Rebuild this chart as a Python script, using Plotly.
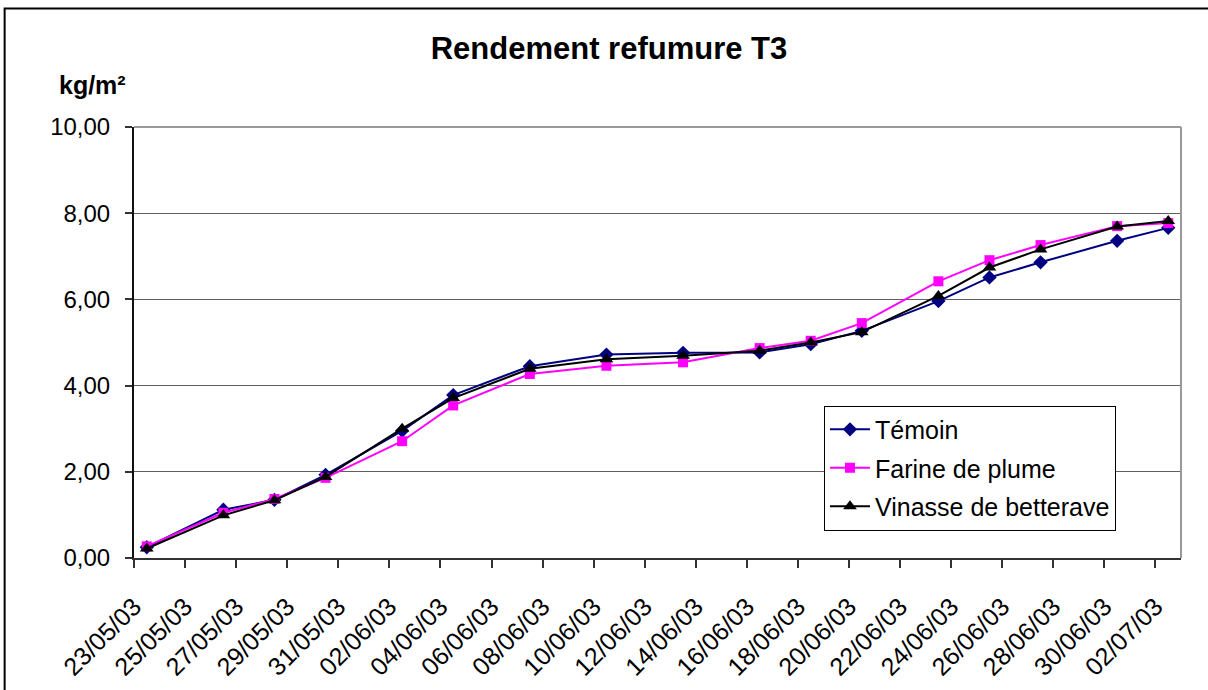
import pandas as pd
import plotly.graph_objects as go

# ---- data ----
dates = ["23/05/03", "26/05/03", "28/05/03", "30/05/03", "02/06/03", "04/06/03",
         "07/06/03", "10/06/03", "13/06/03", "16/06/03", "18/06/03", "20/06/03",
         "23/06/03", "25/06/03", "27/06/03", "30/06/03", "02/07/03"]
temoin = [0.25, 1.12, 1.35, 1.93, 2.95, 3.78, 4.45, 4.72, 4.76, 4.77, 4.96, 5.27,
          5.96, 6.51, 6.86, 7.36, 7.66]
farine = [0.27, 1.05, 1.37, 1.86, 2.71, 3.54, 4.27, 4.46, 4.54, 4.87, 5.04, 5.45,
          6.42, 6.91, 7.26, 7.70, 7.77]
vinasse = [0.22, 0.99, 1.34, 1.88, 3.00, 3.71, 4.39, 4.61, 4.69, 4.81, 5.00, 5.24,
           6.08, 6.74, 7.16, 7.69, 7.82]
tick_labels = ["23/05/03", "25/05/03", "27/05/03", "29/05/03", "31/05/03", "02/06/03",
               "04/06/03", "06/06/03", "08/06/03", "10/06/03", "12/06/03", "14/06/03",
               "16/06/03", "18/06/03", "20/06/03", "22/06/03", "24/06/03", "26/06/03",
               "28/06/03", "30/06/03", "02/07/03"]

x = pd.to_datetime(dates, format="%d/%m/%y")
tick_dates = pd.to_datetime(tick_labels, format="%d/%m/%y")
half_day = pd.Timedelta(hours=12)
# Excel date axis: points sit in the middle of each day slot, ticks at slot borders
tickvals = tick_dates - half_day

FONT = "Arial, Liberation Sans, sans-serif"

series = [
    ("Témoin", temoin, "#000080", "diamond", 11),
    ("Farine de plume", farine, "#FF00FF", "square", 10),
    ("Vinasse de betterave", vinasse, "#000000", "triangle-up", 12),
]

fig = go.Figure()
for i, (name, vals, col, sym, sz) in enumerate(series):
    fig.add_trace(go.Scatter(
        x=x, y=vals, name=name, mode="lines+markers",
        line=dict(color=col, width=2),
        marker=dict(symbol=sym, size=sz, color=col),
        legendgroup=f"g{i}",
    ))

fig.update_layout(
    width=1208, height=690,
    margin=dict(l=134, r=27, t=127, b=132),
    paper_bgcolor="white", plot_bgcolor="white",
    separators=", ",
    font=dict(family=FONT, size=24, color="black"),
    title=dict(text="<b>Rendement refumure T3</b>", x=609 / 1208, xref="container",
               xanchor="center", y=1 - 48 / 690, yref="container", yanchor="middle",
               font=dict(size=31, family=FONT, color="black")),
    showlegend=True,
    legend=dict(x=0.659, y=0.3536, xanchor="left", yanchor="top",
                bgcolor="white", bordercolor="black", borderwidth=1,
                font=dict(size=25, family=FONT, color="black"),
                tracegroupgap=3, traceorder="grouped", itemwidth=40),
    xaxis=dict(
        type="date", automargin=False,
        range=[tick_dates[0] - half_day, tick_dates[-1] + half_day],
        tickvals=tickvals, ticktext=tick_labels, tickangle=-45,
        ticks="outside", ticklen=8, tickcolor="#333", tickwidth=1.5,
        showgrid=False, showline=True, linecolor="#333", linewidth=2,
        tickfont=dict(size=25, family=FONT, color="black"),
        ticklabelstandoff=14,
    ),
    yaxis=dict(
        range=[0, 10], dtick=2, tickformat=".2f", automargin=False,
        ticks="outside", ticklen=7, tickcolor="#333", tickwidth=1.5,
        showgrid=True, gridcolor="#606060", gridwidth=1.2,
        showline=True, linecolor="#111", linewidth=2,
        tickfont=dict(size=24, family=FONT, color="black"),
        ticklabelstandoff=10,
        zeroline=False,
    ),
    annotations=[dict(text="<b>kg/m²</b>", xref="paper", yref="paper",
                      x=(57 - 134.3) / 1046.4, y=(558.3 - 85) / 431.6,
                      xanchor="left", yanchor="middle", showarrow=False,
                      font=dict(size=25, family=FONT, color="black"))],
    shapes=[
        # plot area border (top/right grey)
        dict(type="line", xref="paper", yref="paper", x0=0, x1=1, y0=1, y1=1,
             line=dict(color="#999999", width=2)),
        dict(type="line", xref="paper", yref="paper", x0=1, x1=1, y0=0, y1=1,
             line=dict(color="#999999", width=2)),
        # chart frame
        dict(type="rect", xref="paper", yref="paper",
             x0=(5 - 134.3) / 1046.4, x1=1.3, y0=-0.6, y1=(558.3 - 8) / 431.6,
             line=dict(color="black", width=2), layer="below"),
    ],
)

fig.write_html("out.html", config={"displayModeBar": False},
               post_script="document.body.style.margin='0';")
